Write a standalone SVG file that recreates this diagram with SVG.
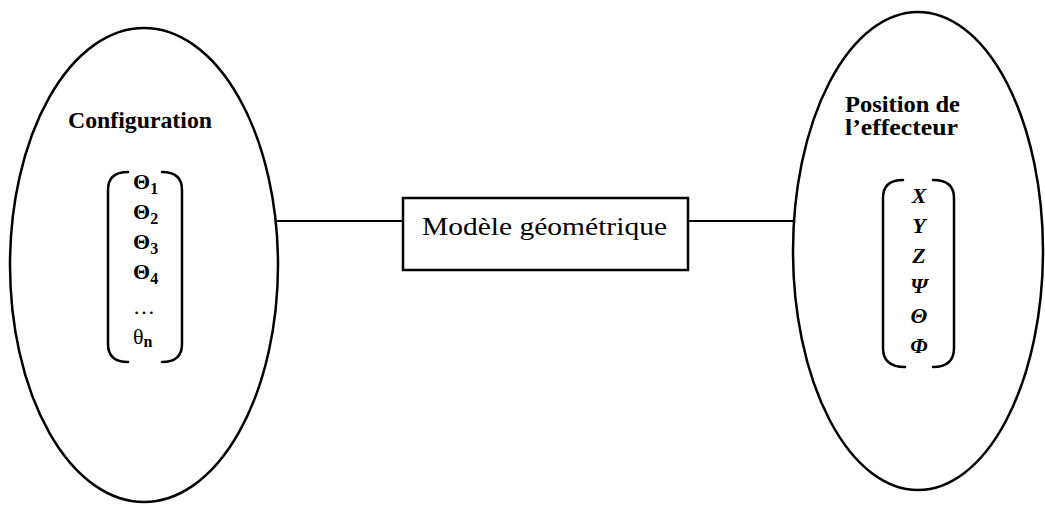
<svg xmlns="http://www.w3.org/2000/svg" width="1045" height="505" viewBox="0 0 1045 505">
<style>
.shape{fill:none;stroke:#000;stroke-width:2.5}
.br{fill:none;stroke:#000;stroke-width:2.5;stroke-linecap:round}
.conn{stroke:#000;stroke-width:2;fill:none}
.t{font-family:"Liberation Serif","Times New Roman",serif;fill:#000}
.title{font-size:23px;font-weight:bold}
.sym{font-size:22px;font-weight:bold}
.sub{font-size:16px;font-weight:bold}
.it{font-size:22px;font-weight:bold;font-style:italic}
</style>
<rect width="1045" height="505" fill="#fff"/>
<g id="connectors">
<line class="conn" x1="277" y1="221" x2="403" y2="221"/>
<line class="conn" x1="688" y1="221" x2="795" y2="221"/>
</g>
<g id="configuration">
<ellipse class="shape" cx="144" cy="265" rx="134" ry="237"/>
<text class="t title" x="68" y="128" textLength="144" lengthAdjust="spacingAndGlyphs">Configuration</text>
<path class="br" d="M128 172 Q108 172 108 190 L108 344 Q108 362 128 362"/>
<path class="br" d="M162 172 Q182 172 182 190 L182 344 Q182 362 162 362"/>
<text class="t sym" x="133" y="189">Θ<tspan class="sub" dy="5">1</tspan></text>
<text class="t sym" x="133" y="219">Θ<tspan class="sub" dy="5">2</tspan></text>
<text class="t sym" x="133" y="249">Θ<tspan class="sub" dy="5">3</tspan></text>
<text class="t sym" x="133" y="279">Θ<tspan class="sub" dy="5">4</tspan></text>
<text class="t" x="133" y="314" style="font-size:22px">…</text>
<text class="t" x="133" y="344" style="font-size:22px">θ<tspan class="sub" dy="3">n</tspan></text>
</g>
<g id="modele">
<rect class="shape" x="403" y="198" width="285" height="72" stroke-width="2"/>
<text class="t" x="422" y="235" style="font-size:26px" textLength="245" lengthAdjust="spacingAndGlyphs">Modèle géométrique</text>
</g>
<g id="position">
<ellipse class="shape" cx="918" cy="251" rx="125" ry="239"/>
<text class="t title" x="845" y="112" textLength="115" lengthAdjust="spacingAndGlyphs">Position de</text>
<text class="t title" x="845" y="135" textLength="113" lengthAdjust="spacingAndGlyphs">l’effecteur</text>
<path class="br" d="M903 180 Q883 180 883 198 L883 348 Q883 367 905 367"/>
<path class="br" d="M933 180 Q954 180 954 198 L954 348 Q954 367 933 367"/>
<text class="t it" x="919" y="203" text-anchor="middle">X</text>
<text class="t it" x="919" y="233" text-anchor="middle">Y</text>
<text class="t it" x="919" y="263" text-anchor="middle">Z</text>
<text class="t it" x="919" y="293" text-anchor="middle">Ψ</text>
<text class="t it" x="919" y="323" text-anchor="middle">Θ</text>
<text class="t it" x="919" y="353" text-anchor="middle">Φ</text>
</g>
</svg>
